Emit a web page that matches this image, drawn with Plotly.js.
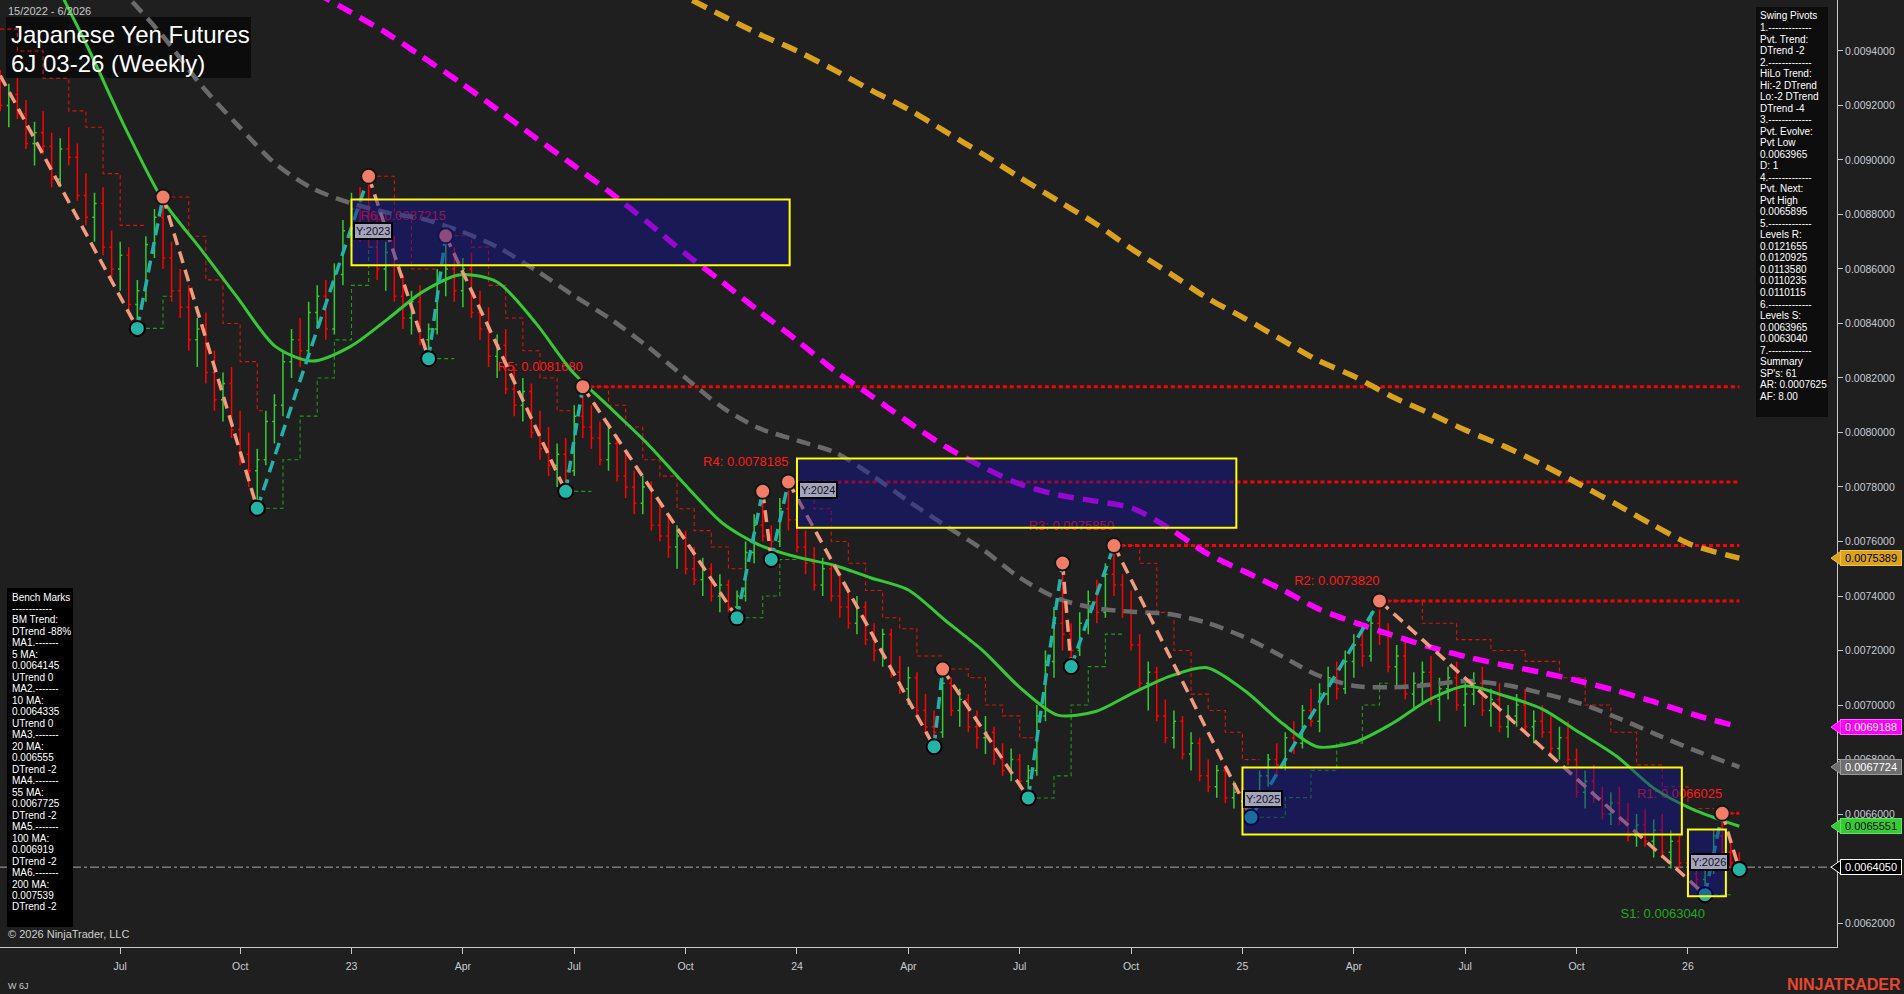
<!DOCTYPE html>
<html>
<head>
<meta charset="utf-8">
<script src="https://cdn.plot.ly/plotly-3.0.1.min.js"></script>
<style>
html,body{margin:0;padding:0;background:#1f1f1f;overflow:hidden}
#chart{width:1904px;height:994px}
</style>
</head>
<body>
<div id="chart"></div>
<script>
// ---------------- DATA (prices in millionths: 9300 = 0.0093000) ----------------
const PRICE_UNIT = 1e-6;
const firstBarDate = '2022-03-21';   // weekly bars, one per week from here

const barOpen = [
9300,9200,9240,9170,9060,9100,9050,8930,9040,9010,8870,8790,8840,8680,8600,8650,8470,8520,8690,8790,
8640,8520,8460,8340,8380,8220,8120,8180,8010,7920,7860,7900,8040,8100,8260,8340,8300,8440,8500,8380,
8580,8740,8820,8760,8720,8600,8660,8500,8420,8480,8340,8380,8560,8600,8520,8600,8440,8380,8280,8320,
8160,8100,8150,8000,7940,7880,7920,7860,8060,8020,7980,7900,7960,7840,7800,7740,7800,7660,7620,7580,
7620,7500,7460,7500,7400,7440,7360,7400,7560,7660,7620,7600,7720,7680,7580,7520,7440,7500,7400,7360,
7300,7360,7240,7200,7260,7120,7060,7100,6980,6920,6900,7080,6980,7020,6920,6880,6900,6800,6760,6800,
6720,6760,6960,7160,7300,7260,7200,7300,7380,7340,7480,7440,7340,7220,7080,7120,6960,6880,6940,6820,
6860,6740,6700,6760,6660,6680,6620,6660,6740,6800,6780,6880,6860,6980,6940,7040,7100,7060,7160,7220,
7180,7300,7260,7140,7180,7040,7080,7120,7020,7060,7100,7000,7040,7080,6980,7020,6920,6960,7000,6920,
6940,6900,6840,6880,6800,6680,6720,6660,6600,6640,6580,6520,6560,6500,6540,6460,6500,6420,6380,6360,
6400,6520,6460,6420];
const barHigh = [
9330,9280,9300,9220,9140,9180,9100,9080,9120,9060,8950,8880,8900,8740,8700,8680,8560,8720,8820,8864,
8700,8600,8540,8420,8440,8300,8220,8240,8080,8000,7940,8080,8140,8300,8380,8420,8480,8540,8560,8620,
8780,8880,8900,8940,8800,8700,8720,8580,8520,8540,8400,8600,8722,8680,8640,8660,8520,8460,8360,8380,
8240,8200,8180,8080,8020,7960,7980,8100,8168,8100,8040,8020,7990,7920,7860,7840,7820,7740,7700,7660,
7640,7580,7540,7520,7480,7460,7420,7600,7700,7784,7660,7760,7818,7720,7640,7580,7540,7520,7480,7420,
7400,7380,7300,7280,7280,7180,7140,7120,7040,6980,7132,7100,7060,7040,6980,6960,6920,6860,6840,6820,
6780,7000,7200,7360,7521,7300,7340,7420,7460,7520,7585,7480,7420,7260,7160,7140,7020,6980,6960,6900,
6880,6800,6780,6780,6720,6700,6680,6760,6820,6860,6900,6940,7000,7060,7080,7140,7160,7200,7260,7300,
7340,7382,7300,7220,7240,7120,7160,7180,7100,7140,7160,7080,7120,7140,7060,7080,7000,7040,7060,6980,
7000,6960,6920,6940,6840,6760,6780,6700,6680,6700,6640,6600,6620,6580,6600,6540,6520,6480,6440,6420,
6540,6603,6500,6460];
const barLow = [
9180,9120,9150,9040,8980,9020,8900,8900,8980,8850,8760,8700,8650,8560,8520,8440,8382,8480,8640,8600,
8480,8420,8300,8240,8180,8080,8040,7980,7880,7800,7722,7880,7960,8060,8200,8240,8280,8380,8340,8360,
8540,8680,8700,8680,8560,8520,8480,8380,8360,8320,8271,8360,8500,8480,8460,8420,8340,8240,8200,8140,
8060,8040,7980,7900,7840,7800,7784,7840,7980,7940,7880,7860,7820,7760,7700,7700,7640,7600,7540,7500,
7480,7440,7400,7380,7340,7340,7320,7380,7520,7600,7534,7580,7640,7560,7480,7420,7400,7380,7320,7280,
7260,7220,7160,7140,7100,7040,7000,6960,6900,6847,6880,6960,6920,6900,6840,6820,6780,6740,6720,6700,
6659,6740,6940,7100,7200,7141,7180,7260,7300,7320,7400,7320,7200,7060,6980,6940,6860,6840,6800,6760,
6720,6680,6660,6640,6620,6600,6588,6640,6700,6740,6760,6820,6840,6920,6900,7000,7020,7040,7100,7140,
7160,7220,7120,7060,7020,6980,7000,7000,6940,7020,6980,6920,7000,6960,6920,6900,6880,6920,6900,6860,
6880,6820,6800,6780,6660,6620,6640,6580,6560,6560,6500,6480,6480,6440,6440,6400,6400,6360,6320,6304,
6380,6440,6400,6397];
const barClose = [
9200,9240,9170,9060,9100,9050,8930,9040,9010,8870,8790,8840,8680,8600,8650,8470,8520,8690,8790,8640,
8520,8460,8340,8380,8220,8120,8180,8010,7920,7860,7900,8040,8100,8260,8340,8300,8440,8500,8380,8580,
8740,8820,8760,8720,8600,8660,8500,8420,8480,8340,8380,8560,8600,8520,8600,8440,8380,8280,8320,8160,
8100,8150,8000,7940,7880,7920,7860,8060,8020,7980,7900,7960,7840,7800,7740,7800,7660,7620,7580,7620,
7500,7460,7500,7400,7440,7360,7400,7560,7660,7620,7600,7720,7680,7580,7520,7440,7500,7400,7360,7300,
7360,7240,7200,7260,7120,7060,7100,6980,6920,6900,7080,6980,7020,6920,6880,6900,6800,6760,6800,6720,
6760,6960,7160,7300,7260,7200,7300,7380,7340,7480,7440,7340,7220,7080,7120,6960,6880,6940,6820,6860,
6740,6700,6760,6660,6680,6620,6660,6740,6800,6780,6880,6860,6980,6940,7040,7100,7060,7160,7220,7180,
7300,7260,7140,7180,7040,7080,7120,7020,7060,7100,7000,7040,7080,6980,7020,6920,6960,7000,6920,6940,
6900,6840,6880,6800,6680,6720,6660,6600,6640,6580,6520,6560,6500,6540,6460,6500,6420,6380,6360,6400,
6520,6460,6420,6405];

// moving averages, read at the start of each month (last point = last bar)
const maDates = [
'2022-04-01','2022-05-01','2022-06-01','2022-07-01','2022-08-01','2022-09-01','2022-10-01','2022-11-01','2022-12-01',
'2023-01-01','2023-02-01','2023-03-01','2023-04-01','2023-05-01','2023-06-01','2023-07-01','2023-08-01','2023-09-01','2023-10-01','2023-11-01','2023-12-01',
'2024-01-01','2024-02-01','2024-03-01','2024-04-01','2024-05-01','2024-06-01','2024-07-01','2024-08-01','2024-09-01','2024-10-01','2024-11-01','2024-12-01',
'2025-01-01','2025-02-01','2025-03-01','2025-04-01','2025-05-01','2025-06-01','2025-07-01','2025-08-01','2025-09-01','2025-10-01','2025-11-01','2025-12-01',
'2026-01-01','2026-02-09'];
const ma20 = [9945,9686,9409,9119,8851,8672,8494,8315,8262,
8315,8418,8516,8579,8552,8405,8226,8092,7958,7811,7668,7588,
7543,7512,7467,7422,7311,7199,7065,6963,6976,7043,7106,7137,
7052,6931,6847,6864,6931,7021,7070,7034,6985,6900,6811,6695,
6619,6555.1];
const ma55 = [null,null,9760,9610,9454,9275,9128,8985,8896,
8842,8806,8784,8739,8681,8597,8507,8418,8315,8204,8092,8016,
7971,7927,7847,7748,7659,7570,7467,7391,7355,7342,7333,7302,
7248,7177,7110,7070,7065,7074,7088,7074,7043,7007,6954,6896,
6838,6772.4];
const ma100 = [null,null,null,null,null,null,null,9721,9623,
9543,9462,9378,9284,9186,9083,8985,8882,8771,8659,8552,8445,
8338,8226,8137,8038,7949,7873,7811,7771,7748,7722,7646,7556,
7489,7422,7355,7302,7257,7213,7177,7146,7119,7088,7052,7012,
6967,6918.8];
const ma200 = [null,null,null,null,null,null,null,null,null,
null,null,null,null,null,null,null,null,9668,9601,9529,9462,
9400,9329,9257,9186,9105,9021,8936,8851,8766,8672,8583,8494,
8418,8338,8266,8204,8132,8070,8007,7949,7882,7811,7735,7659,
7588,7538.9];

// swing pivots (bar index, price, type)
const pivotWeek  = [0,16,19,30,43,50,52,66,68,86,89,90,92,109,110,120,124,125,130,146,161,199,201,203];
const pivotPrice = [9310,8382,8864,7722,8940,8271,8721.5,7784,8168,7320,7784,7534,7818.5,6847,7132,6659,7521,7141,7585,6588,7382,6304,6602.5,6396.5];
const pivotType  = ['H','L','H','L','H','L','H','L','H','L','H','L','H','L','H','L','H','L','H','L','H','L','H','L'];

// support / resistance levels
const levelName  = ['R6','R5','R4','R3','R2','R1','S1'];
const levelPrice = [8721.5,8168,7818.5,7585,7382,6602.5,6304];
const levelWeek  = [52,68,92,130,161,201,199];
const levelLine  = [false,true,true,true,true,true,false];

// yearly boxes
const boxLabel = ['Y:2023','Y:2024','Y:2025','Y:2026'];
const boxStart = ['2023-01-02','2024-01-01','2024-12-30','2025-12-29'];
const boxEnd   = ['2023-12-26','2024-12-25','2025-12-24','2026-01-29'];
const boxHigh  = [8855,7905,6771,6543];
const boxLow   = [8614,7650,6525,6298];

// trailing step stops (null = break)
const trailDownWeek  = [0,2,5,8,10,12,14,17,null,20,22,24,26,28,30,31,null,44,46,48,51,null,53,55,57,59,61,63,65,67,null,
69,71,73,75,77,79,81,83,85,87,null,93,95,97,99,101,103,105,107,110,null,111,113,115,117,119,121,null,
131,133,135,137,139,141,143,145,147,null,162,166,170,174,178,182,185,188,191,194,197,200,null,202,203];
const trailDownPrice = [9480,9400,9300,9180,9120,8950,8760,8760,null,8864,8720,8560,8400,8260,8080,8080,null,8940,8800,8600,8600,null,8722,8680,8540,8420,8300,8200,8080,8080,null,
8168,8100,8020,7900,7840,7720,7640,7580,7500,7500,null,7818,7720,7600,7520,7420,7320,7280,7180,7180,null,7132,7100,7000,6960,6880,6880,null,
7585,7520,7340,7200,7040,6980,6900,6800,6800,null,7382,7300,7240,7200,7160,7100,7000,6900,6780,6700,6620,6620,null,6603,6603];
const trailUpWeek  = [17,19,20,null,31,33,35,37,39,41,43,44,null,51,53,null,67,69,null,87,89,91,93,null,121,123,125,127,129,131,null,147,150,153,156,159,161,162,null,200,202];
const trailUpPrice = [8382,8500,8500,null,7722,7900,8060,8200,8340,8540,8680,8680,null,8271,8271,null,7784,7784,null,7320,7400,7534,7534,null,6659,6740,7000,7141,7260,7260,null,6588,6660,6760,6860,7000,7080,7080,null,6304,6304];

// right-axis price tags
const tagValue = [7538.9,6918.8,6772.4,6555.1,6405.0];
const tagBg    = ['#d9a21b','#ff00ff','#6e6e6e','#33cc33','#000000'];
const tagFg    = ['#000000','#ffffff','#ffffff','#000000','#ffffff'];
const tagEdge  = ['#f0c050','#ff66ff','#9a9a9a','#66e066','#ffffff'];

// axis ticks (first weekly bar of each quarter)
const xTickVals = ['2022-06-27','2022-10-03','2023-01-02','2023-04-03','2023-07-03','2023-10-02','2024-01-01','2024-04-01','2024-07-01','2024-09-30','2024-12-30','2025-03-31','2025-06-30','2025-09-29','2025-12-29'];
const xTickText = ['Jul','Oct','23','Apr','Jul','Oct','24','Apr','Jul','Oct','25','Apr','Jul','Oct','26'];

// text panels
const titleLines = ['Japanese Yen Futures','6J 03-26 (Weekly)'];
const benchLines = ['Bench Marks','------------','BM Trend:','DTrend -88%','MA1.-------','5 MA:','0.0064145','UTrend 0','MA2.-------','10 MA:','0.0064335','UTrend 0','MA3.-------','20 MA:','0.006555','DTrend -2','MA4.-------','55 MA:','0.0067725','DTrend -2','MA5.-------','100 MA:','0.006919','DTrend -2','MA6.-------','200 MA:','0.007539','DTrend -2'];
const swingLines = ['Swing Pivots','1.-------------','Pvt. Trend:','DTrend -2','2.-------------','HiLo Trend:','Hi:-2 DTrend','Lo:-2 DTrend','DTrend -4','3.-------------','Pvt. Evolve:','Pvt Low','0.0063965','D: 1','4.-------------','Pvt. Next:','Pvt High','0.0065895','5.-------------','Levels R:','0.0121655','0.0120925','0.0113580','0.0110235','0.0110115','6.-------------','Levels S:','0.0063965','0.0063040','7.-------------','Summary',"SP's: 61",'AR: 0.0007625','AF: 8.00'];

// ---------------- BUILD ----------------
const P = v => (v == null ? null : v * PRICE_UNIT);
const t0 = Date.parse(firstBarDate + 'T00:00:00Z');
const weekDate = i => (i == null ? null : new Date(t0 + i * 7 * 86400000).toISOString().slice(0, 10));
const barDates = barOpen.map((_, i) => weekDate(i));
const lastDate = barDates[barDates.length - 1];
const lastClose = P(barClose[barClose.length - 1]);

const W = 1904, H = 994;
const M = {l: 0, r: 67, t: 0, b: 47};
const plotW = W - M.l - M.r, plotH = H - M.t - M.b;
const X_RANGE = ['2022-03-20 19:00', '2026-04-29 19:00'];
const Y_RANGE = [0.006112, 0.009587];
const yPerPx = (Y_RANGE[1] - Y_RANGE[0]) / plotH;
const FONT = 'Liberation Sans, Arial, sans-serif';
const px2x = px => (px - M.l) / plotW;
const py2y = py => (M.t + plotH - py) / plotH;

const traces = [];

// resistance lines
levelName.forEach((n, k) => {
  if (!levelLine[k]) return;
  traces.push({type: 'scatter', mode: 'lines', x: [weekDate(levelWeek[k]), lastDate], y: [P(levelPrice[k]), P(levelPrice[k])],
    line: {color: '#ff0000', width: 3, dash: '4px,3px'}, hoverinfo: 'skip'});
});

// level labels (under the yearly boxes, so they tint like the original)
traces.push({type: 'scatter', mode: 'text',
  x: levelWeek.map(weekDate),
  y: levelPrice.map((v, k) => P(v) + (levelName[k][0] === 'R' ? 19 : -20) * yPerPx),
  text: levelName.map((n, k) => n + ': ' + P(levelPrice[k]).toFixed(7)),
  textposition: 'middle left',
  textfont: {family: FONT, size: 13, color: levelName.map(n => n[0] === 'R' ? '#ff1a1a' : '#22a822')},
  hoverinfo: 'skip'});

// trailing stops
traces.push({type: 'scatter', mode: 'lines', x: trailDownWeek.map(weekDate), y: trailDownPrice.map(P), connectgaps: false,
  line: {color: '#e01010', width: 1.1, dash: '4px,3px', shape: 'hv'}, hoverinfo: 'skip'});
traces.push({type: 'scatter', mode: 'lines', x: trailUpWeek.map(weekDate), y: trailUpPrice.map(P), connectgaps: false,
  line: {color: '#1f9a1f', width: 1.1, dash: '4px,3px', shape: 'hv'}, hoverinfo: 'skip'});

// moving averages
const maDefs = [
  {y: ma200, color: '#daa21c', width: 5.5, dash: '16px,9px'},
  {y: ma100, color: '#ff00ff', width: 5.5, dash: '16px,9px'},
  {y: ma55,  color: '#6a6a6a', width: 4.5, dash: '14px,8px'},
  {y: ma20,  color: '#36c836', width: 3,   dash: 'solid'}
];
maDefs.forEach(d => traces.push({type: 'scatter', mode: 'lines', x: maDates, y: d.y.map(P),
  line: {color: d.color, width: d.width, dash: d.dash, shape: 'spline', smoothing: 0.8}, hoverinfo: 'skip'}));

// OHLC bars
traces.push({type: 'ohlc', x: barDates, open: barOpen.map(P), high: barHigh.map(P), low: barLow.map(P), close: barClose.map(P),
  increasing: {line: {color: '#33cc33', width: 1.5}}, decreasing: {line: {color: '#ff0000', width: 1.5}},
  tickwidth: 0.25, hoverinfo: 'skip'});

// swing legs
const downX = [], downY = [], upX = [], upY = [];
for (let k = 0; k < pivotWeek.length - 1; k++) {
  const xs = [weekDate(pivotWeek[k]), weekDate(pivotWeek[k + 1]), null];
  const ys = [P(pivotPrice[k]), P(pivotPrice[k + 1]), null];
  if (pivotType[k] === 'H') { downX.push(...xs); downY.push(...ys); } else { upX.push(...xs); upY.push(...ys); }
}
traces.push({type: 'scatter', mode: 'lines', x: downX, y: downY, line: {color: '#f19a7e', width: 3.5, dash: '12px,7px'}, hoverinfo: 'skip'});
traces.push({type: 'scatter', mode: 'lines', x: upX, y: upY, line: {color: '#22b3a8', width: 3.5, dash: '12px,7px'}, hoverinfo: 'skip'});

// pivot markers (first pivot lies on the left edge)
const hiX = [], hiY = [], loX = [], loY = [];
pivotWeek.forEach((w, k) => {
  if (k === 0) return;
  if (pivotType[k] === 'H') { hiX.push(weekDate(w)); hiY.push(P(pivotPrice[k])); }
  else { loX.push(weekDate(w)); loY.push(P(pivotPrice[k])); }
});
traces.push({type: 'scatter', mode: 'markers', x: hiX, y: hiY, marker: {size: 15, color: '#ef7d68', line: {color: '#151515', width: 2}}, hoverinfo: 'skip'});
traces.push({type: 'scatter', mode: 'markers', x: loX, y: loY, marker: {size: 15, color: '#23b4a6', line: {color: '#000000', width: 2}}, hoverinfo: 'skip'});

// shapes
const shapes = [];
// title panel sits beneath the plotted lines
shapes.push({type: 'rect', xref: 'paper', yref: 'paper', x0: px2x(6), x1: px2x(251), y0: py2y(78), y1: py2y(17),
  fillcolor: '#0c0c0c', line: {width: 0}, layer: 'below'});
shapes.push({type: 'line', xref: 'paper', x0: 0, x1: 1, yref: 'y', y0: lastClose, y1: lastClose,
  line: {color: '#a8a8a8', width: 1, dash: 'dashdot'}, layer: 'below'});
boxLabel.forEach((b, k) => shapes.push({type: 'rect', xref: 'x', yref: 'y', x0: boxStart[k], x1: boxEnd[k], y0: P(boxLow[k]), y1: P(boxHigh[k]),
  fillcolor: 'rgba(18,18,150,0.45)', line: {color: '#ffff00', width: 2}, layer: 'above'}));
shapes.push({type: 'rect', xref: 'paper', yref: 'paper', x0: px2x(7), x1: px2x(73), y0: py2y(927), y1: py2y(588),
  fillcolor: '#000000', line: {width: 0}, layer: 'above'});
shapes.push({type: 'rect', xref: 'paper', yref: 'paper', x0: px2x(1756), x1: px2x(1828), y0: py2y(417), y1: py2y(7),
  fillcolor: '#0d0d0d', line: {width: 0}, layer: 'above'});
// arrow points of the price tags
tagValue.forEach((v, k) => shapes.push({type: 'path', xref: 'paper', yref: 'y',
  path: `M ${px2x(1831)},${P(v)} L ${px2x(1841)},${P(v) + 7 * yPerPx} L ${px2x(1841)},${P(v) - 7 * yPerPx} Z`,
  fillcolor: tagBg[k], line: {color: tagEdge[k], width: 1}, layer: 'above'}));

// annotations
const annotations = [];
boxLabel.forEach((b, k) => annotations.push({xref: 'x', yref: 'y', x: boxStart[k], y: P(boxHigh[k]), xanchor: 'left', yanchor: 'middle',
  xshift: 1, yshift: -32, text: b, showarrow: false, bgcolor: '#a4a4bf', bordercolor: '#000000', borderwidth: 2, borderpad: 1,
  font: {family: FONT, size: 11, color: '#111111'}}));

tagValue.forEach((v, k) => annotations.push({xref: 'paper', yref: 'y', x: px2x(1840), y: P(v), xanchor: 'left', yanchor: 'middle',
  text: P(v).toFixed(7), showarrow: false, bgcolor: tagBg[k], bordercolor: tagEdge[k], borderwidth: 1, borderpad: 1, width: 58,
  font: {family: FONT, size: 11, color: tagFg[k]}}));

const textLine = (txt, px, py, size, color, anchor) => annotations.push({xref: 'paper', yref: 'paper', x: px2x(px), y: py2y(py),
  xanchor: anchor || 'left', yanchor: 'middle', showarrow: false, text: txt, font: {family: FONT, size: size, color: color}});

textLine('15/2022 - 6/2026', 6, 11, 11, '#c8c8c8');
titleLines.forEach((t, k) => textLine(t, 9, 35 + k * 28, 24, '#ffffff'));
benchLines.forEach((t, k) => textLine(t, 10, 597 + k * 11.48, 10, '#ffffff'));
swingLines.forEach((t, k) => textLine(t, 1758, 16 + k * 11.52, 10, '#ffffff'));
textLine('© 2026 NinjaTrader, LLC', 6, 934, 11, '#d0d0d0');
textLine('W 6J', 6, 986, 9, '#c8c8c8');
textLine('<b>NINJATRADER</b>', 1903, 984, 16, '#e6472d', 'right');

const layout = {
  width: W, height: H, margin: M,
  paper_bgcolor: '#1f1f1f', plot_bgcolor: '#1f1f1f',
  showlegend: false, dragmode: false,
  font: {family: FONT, color: '#c8c8c8'},
  xaxis: {type: 'date', range: X_RANGE, rangeslider: {visible: false}, showgrid: false, zeroline: false,
    showline: true, linecolor: '#c8c8c8', linewidth: 1, ticks: 'outside', ticklen: 6, tickcolor: '#c8c8c8',
    ticklabelstandoff: 3,
    tickmode: 'array', tickvals: xTickVals, ticktext: xTickText, tickfont: {family: FONT, size: 10.5, color: '#c8ccd4'}},
  yaxis: {side: 'right', range: Y_RANGE, showgrid: false, zeroline: false, showline: true, linecolor: '#c8c8c8', linewidth: 1,
    ticks: 'outside', ticklen: 5, tickcolor: '#c8c8c8', tick0: 0, dtick: 0.0002, tickformat: '.7f',
    tickfont: {family: FONT, size: 10.5, color: '#c8ccd4'}},
  shapes: shapes, annotations: annotations
};

Plotly.newPlot('chart', traces, layout, {staticPlot: true, displayModeBar: false});
</script>
</body>
</html>
